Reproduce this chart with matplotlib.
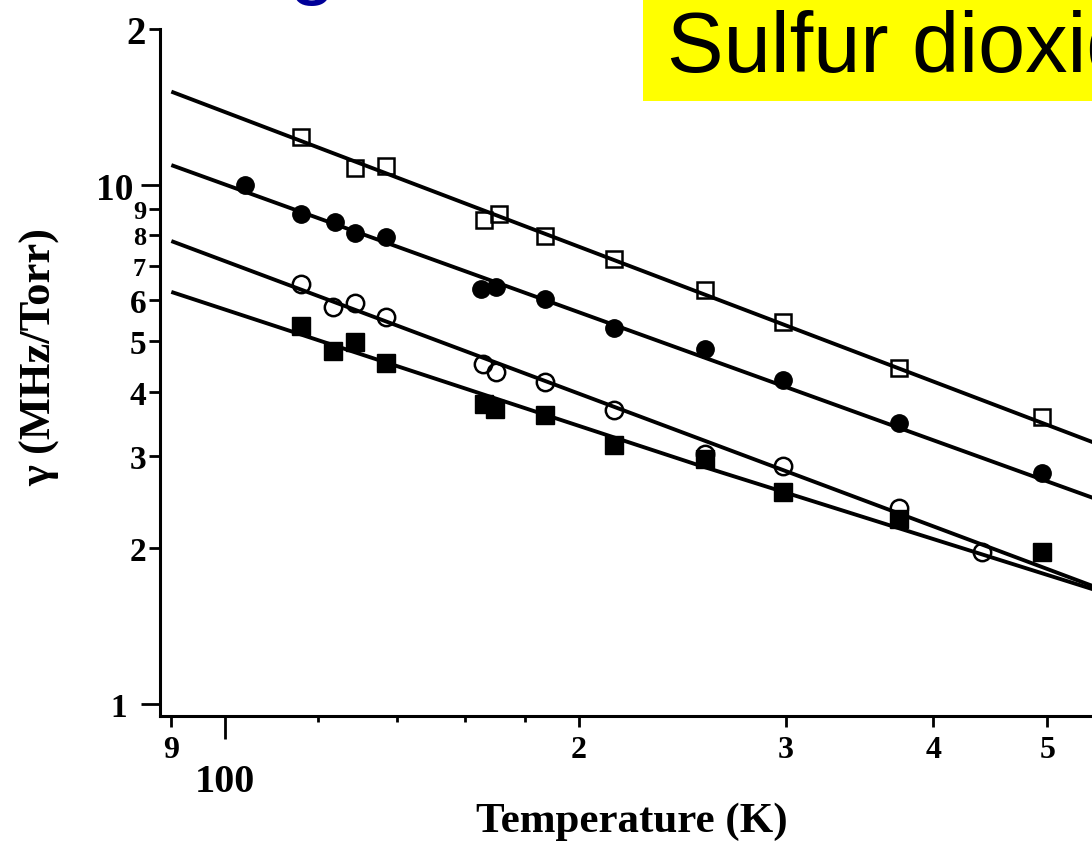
import numpy as np
import matplotlib.pyplot as plt
from matplotlib.patches import Rectangle

# open squares
T_open_sq = [116, 129, 137, 166, 171, 187, 214, 256, 298, 374, 495]
g_open_sq = [12.4, 10.8, 10.9, 8.58, 8.79, 7.99, 7.20, 6.29, 5.46, 4.44, 3.57]

# filled circles
T_fill_ci = [104, 116, 124, 129, 137, 165, 170, 187, 214, 256, 298, 374, 495]
g_fill_ci = [10.0, 8.79, 8.50, 8.08, 7.93, 6.30, 6.35, 6.03, 5.30, 4.83, 4.22, 3.48, 2.79]

# open circles
T_open_ci = [116, 123.5, 129, 137, 165.6, 170, 187, 214, 256, 298, 374, 440]
g_open_ci = [6.45, 5.83, 5.93, 5.58, 4.52, 4.36, 4.18, 3.69, 3.03, 2.88, 2.39, 1.96]

# filled squares
T_fill_sq = [116, 123.5, 129, 137, 166, 169.6, 187, 214, 256, 298, 374, 495]
g_fill_sq = [5.36, 4.79, 4.98, 4.55, 3.78, 3.70, 3.60, 3.16, 2.97, 2.56, 2.27, 1.96]

# fit lines as drawn in the scan
fit_T = [90.4, 545.8]
fit_open_sq = [15.1, 3.20]
fit_fill_ci = [10.9, 2.50]
fit_open_ci = [7.78, 1.69]
fit_T_fill_sq = [90.4, 253.4, 545.8]
fit_fill_sq = [6.21, 2.88, 1.666]

y_ticks = [1, 2, 3, 4, 5, 6, 7, 8, 9, 10, 20]
y_labels = ["1", "2", "3", "4", "5", "6", "7", "8", "9", "10", "2"]
x_ticks = [90, 100, 200, 300, 400, 500]
x_labels = ["9", "100", "2", "3", "4", "5"]
x_minor = [120, 140, 160, 180]

serif = "Liberation Serif"
sans = "Liberation Sans"

fig = plt.figure(figsize=(10.92, 8.45), dpi=100)
ax = fig.add_axes([160 / 1092, 1 - 717 / 845, 1 - 160 / 1092, (717 - 30) / 845])

ax.set_xscale("log")
ax.set_yscale("log")
ax.set_xlim(88.1, 545.8)
ax.set_ylim(0.948, 20.0)

lw = 2.8
ax.plot(fit_T, fit_open_sq, color="black", lw=lw, zorder=2)
ax.plot(fit_T, fit_fill_ci, color="black", lw=lw, zorder=2)
ax.plot(fit_T, fit_open_ci, color="black", lw=lw, zorder=2)
ax.plot(fit_T_fill_sq, fit_fill_sq, color="black", lw=lw, zorder=2)

ax.plot(T_open_sq, g_open_sq, "s", ms=12, mfc="none", mec="black", mew=1.8, zorder=3)
ax.plot(T_fill_ci, g_fill_ci, "o", ms=12.5, color="black", zorder=3)
ax.plot(T_open_ci, g_open_ci, "o", ms=12.5, mfc="none", mec="black", mew=1.8, zorder=3)
ax.plot(T_fill_sq, g_fill_sq, "s", ms=12.5, color="black", zorder=3)

for side in ["top", "right"]:
    ax.spines[side].set_visible(False)
for side in ["left", "bottom"]:
    ax.spines[side].set_linewidth(2.2)

ax.yaxis.set_major_locator(plt.FixedLocator(y_ticks))
ax.yaxis.set_minor_locator(plt.NullLocator())
ax.set_yticklabels(y_labels, family=serif, fontweight="bold")
ax.tick_params(axis="y", which="major", direction="out", length=8, width=2, pad=2)

ax.xaxis.set_major_locator(plt.FixedLocator(x_ticks))
ax.xaxis.set_minor_locator(plt.FixedLocator(x_minor))
ax.xaxis.set_minor_formatter(plt.NullFormatter())
ax.set_xticklabels(x_labels, family=serif, fontweight="bold")
ax.tick_params(axis="x", which="major", direction="out", length=8, width=2, pad=6)
ax.tick_params(axis="x", which="minor", direction="out", length=4, width=2)

for lab, val in zip(ax.get_yticklabels(), y_ticks):
    if val == 10:
        lab.set_fontsize(27)
    elif val == 20:
        lab.set_fontsize(28)
    elif val in (7, 8, 9):
        lab.set_fontsize(19)
    else:
        lab.set_fontsize(24)

# longer ticks for 1 and 10, labels pushed out accordingly
yt = ax.yaxis.get_major_ticks()
yt[0].set_pad(16)
yt[0].tick1line.set_markersize(14)
yt[9].set_pad(11)
yt[9].tick1line.set_markersize(14)

for lab, val in zip(ax.get_xticklabels(), x_ticks):
    lab.set_fontsize(29 if val == 100 else 23)
xt = ax.xaxis.get_major_ticks()
xt[1].set_pad(26)
xt[1].tick1line.set_markersize(16.5)

ax.set_xlabel("Temperature (K)", family=serif, fontweight="bold", fontsize=31)
ax.xaxis.set_label_coords(0.5 + (632 - 626) / 932, -0.125)
ax.set_ylabel("\u03b3 (MHz/Torr)", family=serif, fontweight="bold", fontsize=32)
ax.yaxis.set_label_coords(-(160 - 60) / 932, (717 - 357) / 687)

# yellow title box cut off by the right edge
fig.patches.append(Rectangle((643 / 1092, 1 - 102 / 845), 1.0, 1.0,
                             transform=fig.transFigure, facecolor="#ffff00",
                             edgecolor="none", zorder=0))
fig.text(667 / 1092, 1 - 72 / 845, "Sulfur dioxide", family=sans, fontsize=61,
         color="black", va="baseline", ha="left")
# tail of the slide title above the crop
fig.text(312 / 1092, 1 + 12 / 845, "g", family=sans, fontsize=61,
         color="#000099", va="baseline", ha="center")

fig.savefig("out.png", dpi=100)
